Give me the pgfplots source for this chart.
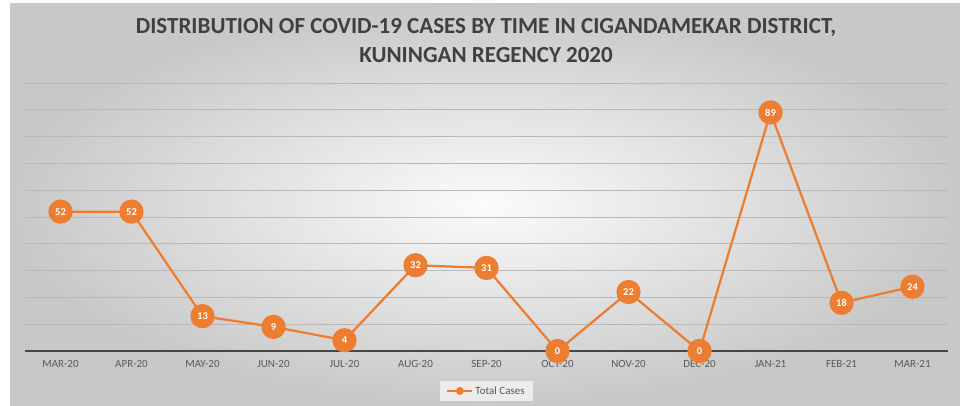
\documentclass[border=0pt]{standalone}
\usepackage{pgfplots}
\pgfplotsset{compat=1.18}
\usepackage{fontspec}
\setmainfont{Carlito}
\definecolor{excelorange}{RGB}{237,125,49}
\definecolor{titlegray}{RGB}{64,64,64}
\definecolor{tickgray}{RGB}{89,89,89}
\definecolor{gridgray}{RGB}{185,185,185}
\definecolor{axisdark}{RGB}{70,70,70}
\begin{document}
\begin{tikzpicture}[x=1pt,y=1pt]
\path[use as bounding box] (0,0) rectangle (960,405);
\shade[inner color=white!97!gray, outer color={rgb,255:red,200;green,200;blue,200}] (10,0) rectangle (960,401);
\node[font=\bfseries\fontsize{23}{29}\selectfont, text=titlegray, align=center] at (486,364) {DISTRIBUTION OF COVID-19 CASES BY TIME IN CIGANDAMEKAR DISTRICT,\\KUNINGAN REGENCY 2020};
\begin{axis}[
  at={(25pt,54pt)}, anchor=south west,
  scale only axis, width=923pt, height=268pt,
  xmin=-0.5, xmax=12.5, ymin=0, ymax=100,
  xtick=data,
  xticklabels={MAR-20,APR-20,MAY-20,JUN-20,JUL-20,AUG-20,SEP-20,OCT-20,NOV-20,DEC-20,JAN-21,FEB-21,MAR-21},
  ytick={10,20,...,100},
  yticklabels={},
  major tick length=0pt,
  ymajorgrids,
  grid style={draw=gridgray, line width=0.9pt},
  axis line style={draw=none},
  extra y ticks={0},
  extra y tick labels={},
  extra y tick style={grid style={draw=axisdark, line width=1.8pt}},
  x tick label style={font=\fontsize{11}{13}\selectfont, text=tickgray, yshift=-6pt},
  clip=false,
  /pgf/number format/assume math mode=true,
  legend style={at={(0.5,-0.149)}, anchor=center, fill={rgb,255:red,236;green,236;blue,236}, draw=none, font=\fontsize{11}{13}\selectfont, text=tickgray, inner xsep=6pt, inner ysep=3pt},
  legend image code/.code={\draw[excelorange, line width=2.2pt] (0pt,0pt) -- (25pt,0pt); \fill[excelorange] (12.5pt,0pt) circle (2.8pt);},
]
\addplot[
  color=excelorange, line width=2.25pt,
  mark=*, mark size=11pt, mark options={fill=excelorange, draw=excelorange},
  nodes near coords,
  every node near coord/.append style={anchor=center, text=white, font=\bfseries\fontsize{10.5}{12}\selectfont},
] coordinates {
  (0,52) (1,52) (2,13) (3,9) (4,4) (5,32) (6,31) (7,0) (8,22) (9,0) (10,89) (11,18) (12,24)
};
\addlegendentry{Total Cases}
\end{axis}
\end{tikzpicture}
\end{document}
